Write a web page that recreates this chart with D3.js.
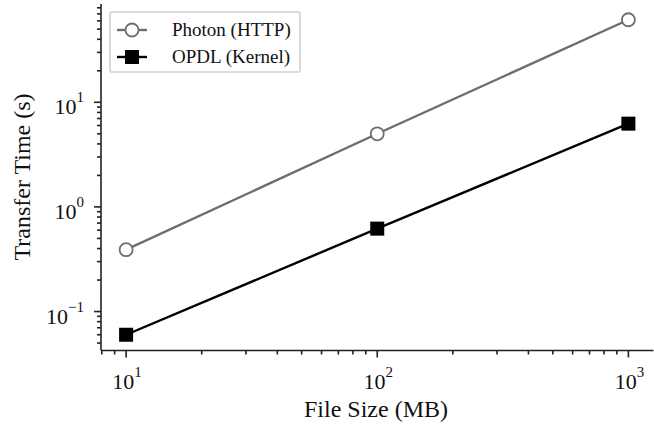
<!DOCTYPE html>
<html><head><meta charset="utf-8">
<script src="https://cdn.jsdelivr.net/npm/d3@7"></script>
<style>body{margin:0;background:#fff}svg{display:block}text{font-family:"Liberation Serif","Times New Roman",serif;fill:#111}</style>
</head><body><svg id="c" width="654" height="432"></svg>
<script>
const fileSizes = [10, 100, 1000];
const photonTimes = [0.39, 5.0, 61.5];
const opdlTimes = [0.06, 0.62, 6.25];
const seriesNames = ["Photon (HTTP)", "OPDL (Kernel)"];
const xTickExps = [1, 2, 3];
const yTickExps = [-1, 0, 1];
const xLabel = "File Size (MB)";
const yLabel = "Transfer Time (s)";

const svg = d3.select("#c");
const L = 101, R = 653.5, T = 4, B = 350.5;

function logPad(vals){
  const lo = Math.log10(d3.min(vals)), hi = Math.log10(d3.max(vals));
  const m = (hi - lo) * 0.05;
  return [Math.pow(10, lo - m), Math.pow(10, hi + m)];
}
const x = d3.scaleLog().domain(logPad(fileSizes)).range([L, R]);
const y = d3.scaleLog().domain(logPad(photonTimes.concat(opdlTimes))).range([B, T]);

const axisCol = "#222";
function ticksIn(scale){
  const [a,b] = scale.domain();
  const out = [];
  for (let e = Math.floor(Math.log10(a)); e <= Math.ceil(Math.log10(b)); e++){
    for (let k = 1; k <= 9; k++){
      const v = k * Math.pow(10, e);
      if (v >= a*0.9999 && v <= b*1.0001) out.push({v, major: k === 1});
    }
  }
  return out;
}
const g = svg.append("g");
g.append("line").attr("x1", L).attr("x2", R).attr("y1", B).attr("y2", B)
  .attr("stroke", axisCol).attr("stroke-width", 1.6);
ticksIn(x).forEach(t => {
  g.append("line").attr("x1", x(t.v)).attr("x2", x(t.v))
    .attr("y1", B).attr("y2", B + (t.major ? 7 : 4))
    .attr("stroke", axisCol).attr("stroke-width", 1.6);
});
g.append("line").attr("x1", L).attr("x2", L).attr("y1", T).attr("y2", B)
  .attr("stroke", axisCol).attr("stroke-width", 1.6);
ticksIn(y).forEach(t => {
  g.append("line").attr("y1", y(t.v)).attr("y2", y(t.v))
    .attr("x1", L).attr("x2", L - (t.major ? 7 : 4))
    .attr("stroke", axisCol).attr("stroke-width", 1.6);
});

function powLabel(parent, e, anchorX, baseY, align){
  const t = parent.append("text").attr("y", baseY).attr("font-size", 22);
  t.append("tspan").text("10");
  t.append("tspan").attr("dy", -12).attr("font-size", 15).text(e < 0 ? "\u2212" + (-e) : String(e));
  const w = t.node().getComputedTextLength();
  t.attr("x", align === "center" ? anchorX - w / 2 : anchorX - w);
}
xTickExps.forEach(e => powLabel(g, e, x(Math.pow(10, e)) + 1, 389, "center"));
yTickExps.forEach(e => powLabel(g, e, 84, y(Math.pow(10, e)) + 12, "right"));

svg.append("text").attr("x", 376).attr("y", 417).attr("text-anchor", "middle")
  .attr("font-size", 24).text(xLabel);
svg.append("text").attr("transform", "translate(30,177) rotate(-90)").attr("text-anchor", "middle")
  .attr("font-size", 24).text(yLabel);

const line = d3.line().x(d => x(d[0])).y(d => y(d[1]));
const photon = fileSizes.map((s, i) => [s, photonTimes[i]]);
const opdl = fileSizes.map((s, i) => [s, opdlTimes[i]]);
const grayCol = "#6e6e6e";
svg.append("path").datum(photon).attr("d", line).attr("fill", "none").attr("stroke", grayCol).attr("stroke-width", 2.4);
svg.append("path").datum(opdl).attr("d", line).attr("fill", "none").attr("stroke", "#000").attr("stroke-width", 2.4);
svg.selectAll(".pc").data(photon).enter().append("circle")
  .attr("cx", d => x(d[0])).attr("cy", d => y(d[1])).attr("r", 6.5)
  .attr("fill", "#fff").attr("stroke", grayCol).attr("stroke-width", 1.8);
svg.selectAll(".os").data(opdl).enter().append("rect")
  .attr("x", d => x(d[0]) - 7).attr("y", d => y(d[1]) - 7).attr("width", 14).attr("height", 14)
  .attr("fill", "#000");

const lg = svg.append("g");
lg.append("rect").attr("x", 110).attr("y", 12).attr("width", 190).attr("height", 60)
  .attr("fill", "#fff").attr("stroke", "#d0d0d0").attr("stroke-width", 1.6).attr("rx", 1.5);
const rows = [30, 57];
lg.append("line").attr("x1", 117).attr("x2", 147).attr("y1", rows[0]).attr("y2", rows[0]).attr("stroke", grayCol).attr("stroke-width", 2.4);
lg.append("circle").attr("cx", 132).attr("cy", rows[0]).attr("r", 6.5).attr("fill", "#fff").attr("stroke", grayCol).attr("stroke-width", 1.8);
lg.append("line").attr("x1", 117).attr("x2", 147).attr("y1", rows[1]).attr("y2", rows[1]).attr("stroke", "#000").attr("stroke-width", 2.4);
lg.append("rect").attr("x", 125).attr("y", rows[1] - 7).attr("width", 14).attr("height", 14).attr("fill", "#000");
seriesNames.forEach((n, i) => lg.append("text").attr("x", 172).attr("y", rows[i] + 6).attr("font-size", 19).text(n));
</script></body></html>
